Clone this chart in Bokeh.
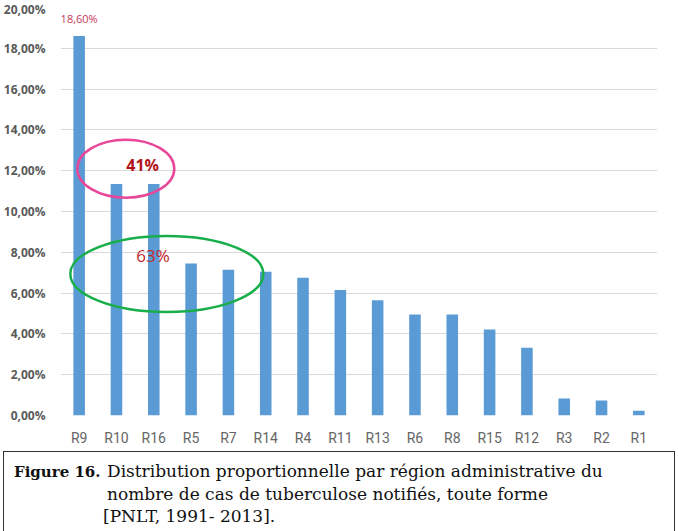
from bokeh.plotting import figure
from bokeh.models import FactorRange, Range1d, FixedTicker, ColumnDataSource, Label, Div
from bokeh.layouts import column
from bokeh.embed import file_html
from bokeh.resources import INLINE
from bokeh.core.properties import value

# ---- data ----
regions = ["R9", "R10", "R16", "R5", "R7", "R14", "R4", "R11", "R13", "R6", "R8", "R15", "R12", "R3", "R2", "R1"]
shares = [18.60, 11.35, 11.35, 7.45, 7.15, 7.05, 6.75, 6.15, 5.65, 4.95, 4.95, 4.22, 3.32, 0.83, 0.73, 0.23]
y_ticks = [0, 2, 4, 6, 8, 10, 12, 14, 16, 18, 20]
y_tick_labels = {t: f"{t:.2f}".replace(".", ",") + "%" for t in y_ticks}
top_label = "18,60%"
circle_labels = ["41%", "63%"]
caption_bold = "Figure 16."
caption_lines = [
    "Distribution proportionnelle par région administrative du",
    "nombre de cas de tuberculose notifiés, toute forme",
    "[PNLT, 1991- 2013].",
]

W = 678
H1 = 448
H2 = 531 - H1

p = figure(width=W, height=H1, x_range=FactorRange(*regions, range_padding=0),
           y_range=Range1d(0, 20), output_backend="svg", toolbar_location=None,
           min_border_left=60, min_border_right=21, min_border_top=7, min_border_bottom=32)
p.outline_line_color = None
p.background_fill_color = "white"
p.border_fill_color = "white"

src = ColumnDataSource(dict(x=regions, top=shares))
p.vbar(x="x", top="top", width=0.31, source=src, fill_color="#5b9bd5", line_color=None)

# axes
p.yaxis.ticker = FixedTicker(ticks=y_ticks)
p.yaxis.major_label_overrides = y_tick_labels
p.yaxis.axis_line_color = None
p.yaxis.major_tick_line_color = None
p.yaxis.minor_tick_line_color = None
p.yaxis.major_label_standoff = 9
p.yaxis.major_label_text_font = "Open Sans"
p.yaxis.major_label_text_font_size = "12px"
p.yaxis.major_label_text_font_style = "bold"
p.yaxis.major_label_text_color = "#5a5a5a"

p.xaxis.axis_line_color = None
p.xaxis.major_tick_line_color = None
p.xaxis.minor_tick_line_color = None
p.xaxis.major_label_standoff = 8
p.xaxis.major_label_text_font = "Liberation Sans Narrow, Roboto"
p.xaxis.major_label_text_font_size = "14px"
p.xaxis.major_label_text_color = "#666666"

p.xgrid.grid_line_color = None
p.ygrid.grid_line_color = "#d9d9d9"
p.ygrid.grid_line_width = 1

# data label on highest bar
p.text(x=[regions[0]], y=[shares[0]], text=[top_label], text_align="center",
       text_baseline="bottom", y_offset=-10, text_font=value("Open Sans"),
       text_font_size="11px", text_color="#c8385a")

# highlight ellipses (annotation positions)
p.ellipse(x=[1.75], y=[12.1], width=97, height=58, width_units="screen", height_units="screen",
          fill_color=None, line_color="#e8479a", line_width=2.5)
p.ellipse(x=[2.85], y=[6.94], width=193, height=76, width_units="screen", height_units="screen",
          fill_color=None, line_color="#18ae4a", line_width=2.5)

p.add_layout(Label(x=2.2, y=12.27, text=circle_labels[0], text_align="center", text_baseline="middle",
                   text_font="Open Sans", text_font_size="16px", text_font_style="bold",
                   text_color="#b3121b"))
p.add_layout(Label(x=2.48, y=7.82, text=circle_labels[1], text_align="center", text_baseline="middle",
                   text_font="Open Sans", text_font_size="17px", text_color="#c0282d"))

# ---- caption ----
base_style = ("position:absolute;white-space:nowrap;font-family:'DejaVu Serif',serif;color:#111;")
span_style = base_style + "font-size:17px;line-height:17px;"
bold_style = base_style + "font-size:15px;line-height:15px;font-weight:bold;"
html = (
    f'<div style="position:relative;width:{W}px;height:{H2}px;overflow:hidden;background:white;">'
    '<div style="position:absolute;left:3px;top:3px;width:672px;height:120px;'
    'border:1.5px solid #333;box-sizing:border-box;"></div>'
    f'<span style="{bold_style}left:14px;top:17px;">{caption_bold}</span>'
    f'<span style="{span_style}left:107px;top:15px;">{caption_lines[0]}</span>'
    f'<span style="{span_style}left:107px;top:38px;">{caption_lines[1]}</span>'
    f'<span style="{span_style}left:103px;top:60px;">{caption_lines[2]}</span>'
    '</div>'
)
cap = Div(text=html, width=W, height=H2, margin=0)

layout = column(p, cap, spacing=0)
open("out.html", "w").write(file_html(layout, INLINE))
